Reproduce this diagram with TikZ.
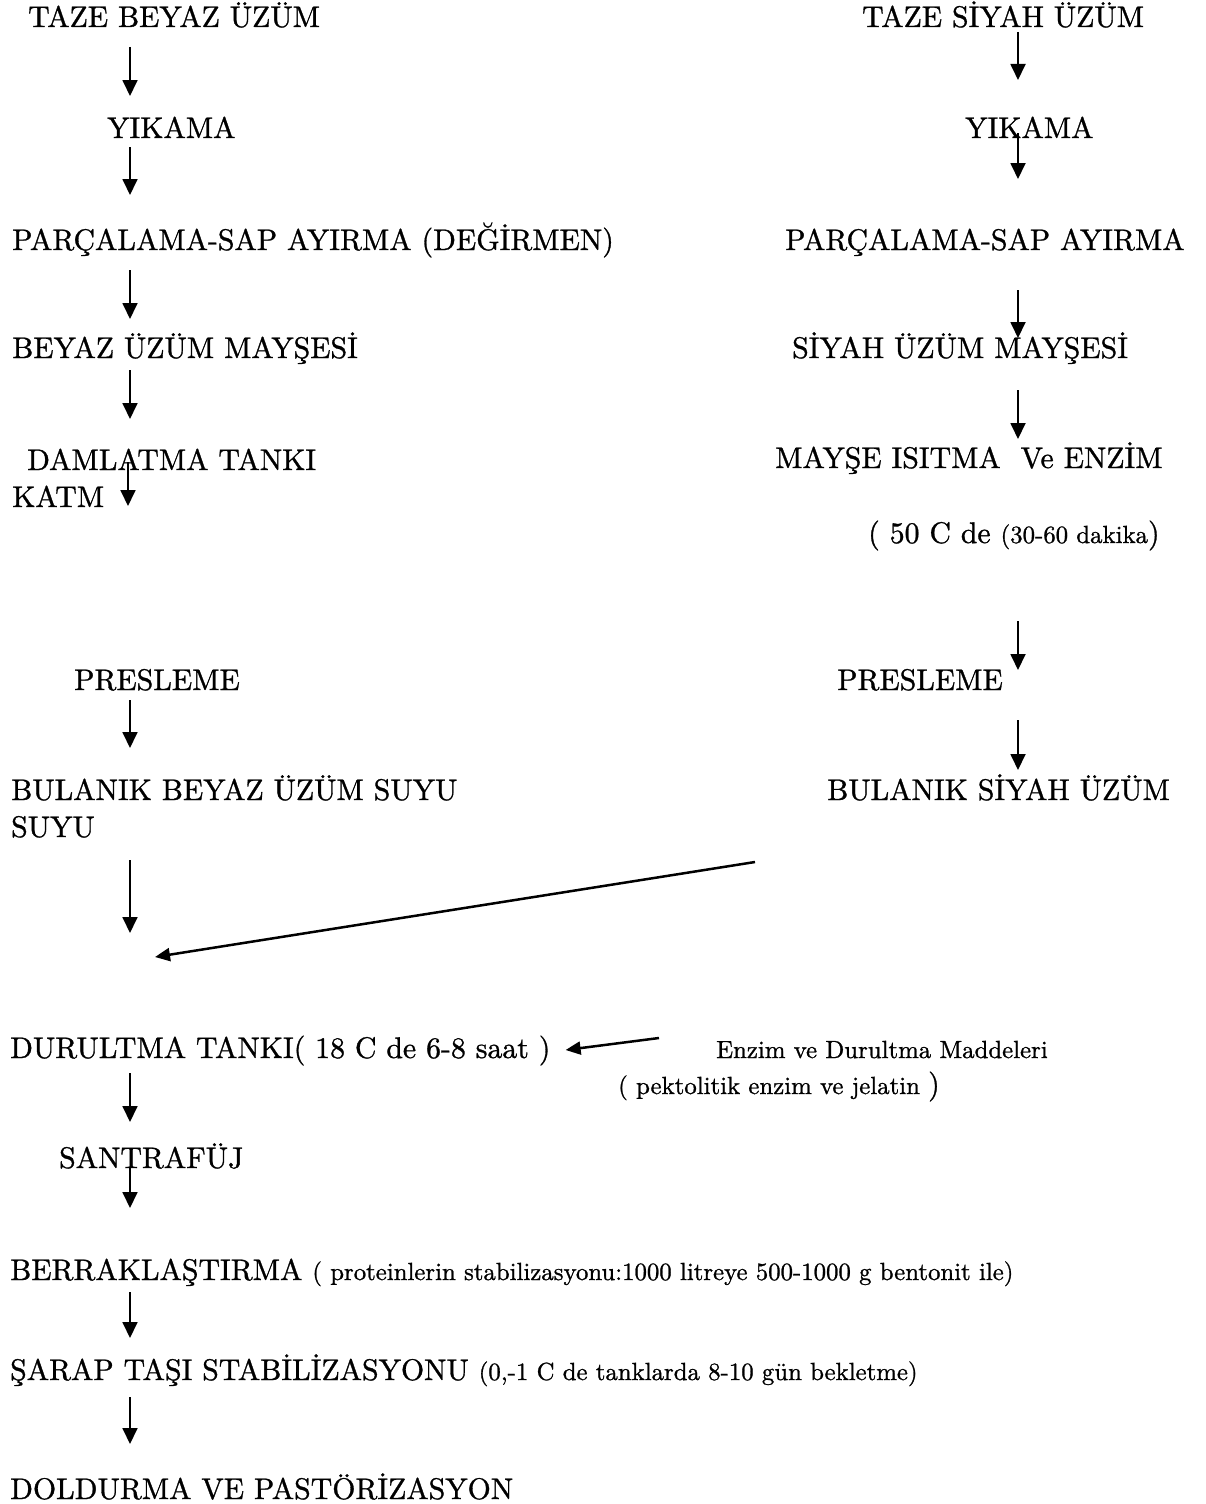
\documentclass[tikz,border=0pt]{standalone}
\usepackage{fontspec}
\setmainfont{lmroman10-regular}[Extension=.otf, FakeBold=1]
\usepackage{tikz}
\usetikzlibrary{arrows.meta,calc}
\newcommand{\buyuk}{\fontsize{29.8}{34}\selectfont}
\newcommand{\kucuk}{\fontsize{24.8}{29}\selectfont}

\begin{document}
\begin{tikzpicture}[x=1pt, y=-1pt,
  adim/.style={anchor=base west, inner sep=0pt, font=\buyuk},
  ok/.style={-{Triangle[length=16pt,width=15pt]}, line width=1.8pt},
  capraz/.style={-{Triangle[length=15pt,width=13pt]}, line width=2.5pt},
  bosluk/.style 2 args={shorten <=#1pt, shorten >=#2pt}]
\useasboundingbox (0,0) rectangle (1205,1504);
\coordinate (L) at (130,0);
\coordinate (R) at (1018,0);

% beyaz uzum
\node[adim] (taze1) at (28,27) {TAZE BEYAZ ÜZÜM};
\node[adim] (yik1) at (107,138) {YIKAMA};
\node[adim] (parc1) at (12,250) {PARÇALAMA-SAP AYIRMA (DEĞİRMEN)};
\node[adim] (mays1) at (12,358) {BEYAZ ÜZÜM MAYŞESİ};
\node[adim] (daml) at (27,470) {DAMLATMA TANKI};
\node[adim] (katm) at (12,507) {KATM};
\node[adim] (pres1) at (74,690) {PRESLEME};
\node[adim] (bul1) at (11,800) {BULANIK BEYAZ ÜZÜM SUYU};
\node[adim] (suyu) at (11,837) {SUYU};

% siyah uzum
\node[adim] (taze2) at (862,27) {TAZE SİYAH ÜZÜM};
\node[adim] (yik2) at (965,138) {YIKAMA};
\node[adim] (parc2) at (785,250) {PARÇALAMA-SAP AYIRMA};
\node[adim] (mays2) at (792,358) {SİYAH ÜZÜM MAYŞESİ};
\node[adim] (isit) at (775,468) {MAYŞE ISITMA\ \ Ve ENZİM};
\node[adim] (derece) at (868,543) {( 50 C de {\kucuk(30-60 dakika}{)}};
\node[adim] (pres2) at (837,690) {PRESLEME};
\node[adim] (bul2) at (827,800) {BULANIK SİYAH ÜZÜM};

% ortak hat
\node[adim] (durl) at (10,1058) {DURULTMA TANKI( 18 C de 6-8 saat )};
\node[adim, font=\kucuk] (enz) at (716,1058) {Enzim ve Durultma Maddeleri};
\node[adim, font=\kucuk] (pekt) at (618,1094) {( pektolitik enzim ve jelatin {\buyuk)}};
\node[adim] (sant) at (59,1168) {SANTRAFÜJ};
\node[adim] (berr) at (10,1280) {BERRAKLAŞTIRMA {\kucuk( proteinlerin stabilizasyonu:1000 litreye 500-1000 g bentonit ile)}};
\node[adim] (sarap) at (10,1380) {ŞARAP TAŞI STABİLİZASYONU {\kucuk(0,-1 C de tanklarda 8-10 gün bekletme)}};
\node[adim] (dold) at (10,1499) {DOLDURMA VE PASTÖRİZASYON};

\coordinate (beyazsu) at (130,933);
\coordinate (siyahsu) at (755,862);
\coordinate (birlesim) at (155,957);

\draw[ok, bosluk={20}{42}] (taze1.base -| L) -- (yik1.base -| L);
\draw[ok, bosluk={9}{55}] (yik1.base -| L) -- (parc1.base -| L);
\draw[ok, bosluk={20}{39}] (parc1.base -| L) -- (mays1.base -| L);
\draw[ok, bosluk={12}{51}] (mays1.base -| L) -- (daml.base -| L);
\draw[ok, bosluk={-8}{1}] ([xshift=-2pt]daml.base -| L) -- ([xshift=-2pt]katm.base -| L);
\draw[ok, bosluk={10}{52}] (pres1.base -| L) -- (bul1.base -| L);
\draw[ok, bosluk={23}{0}] (suyu.base -| L) -- (beyazsu);

\draw[ok, bosluk={5}{58}] (taze2.base -| R) -- (yik2.base -| R);
\draw[ok, bosluk={-5}{71}] (yik2.base -| R) -- (parc2.base -| R);
\draw[ok, bosluk={40}{20}] (parc2.base -| R) -- (mays2.base -| R);
\draw[ok, bosluk={32}{29}] (mays2.base -| R) -- (isit.base -| R);
\draw[ok, bosluk={78}{20}] (derece.base -| R) -- (pres2.base -| R);
\draw[ok, bosluk={30}{30}] (pres2.base -| R) -- (bul2.base -| R);

\draw[capraz] (siyahsu) -- (birlesim);
\draw[capraz] ($(enz.base west)+(-57,-20)$) -- ($(durl.base east)+(15,-8)$);

\draw[ok, bosluk={15}{46}] (durl.base -| L) -- (sant.base -| L);
\draw[ok, bosluk={0}{72}] (sant.base -| L) -- (berr.base -| L);
\draw[ok, bosluk={12}{42}] (berr.base -| L) -- (sarap.base -| L);
\draw[ok, bosluk={17}{55}] (sarap.base -| L) -- (dold.base -| L);
\end{tikzpicture}
\end{document}
